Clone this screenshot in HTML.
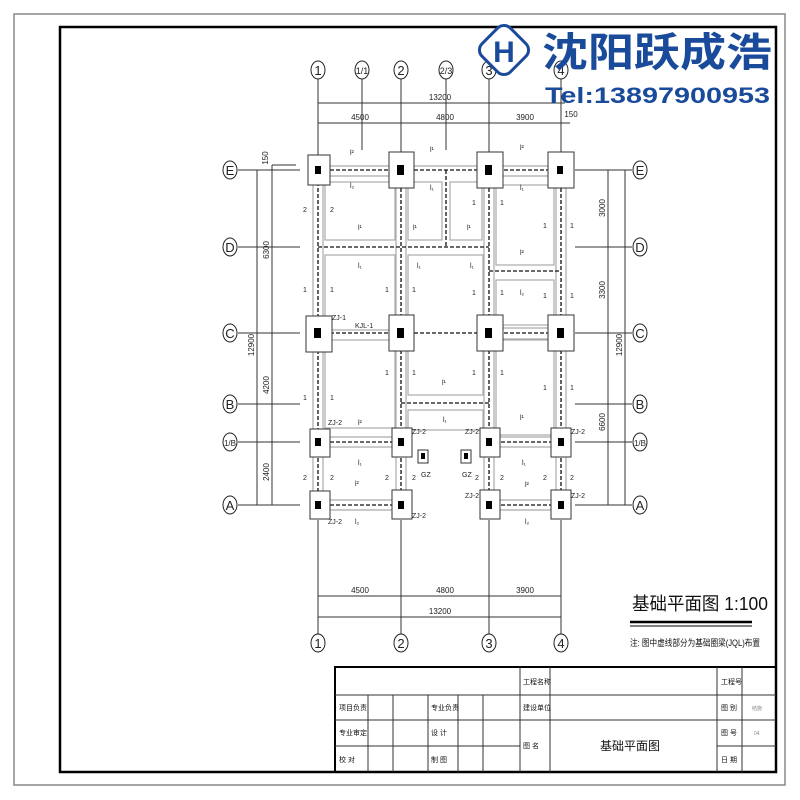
<!DOCTYPE html>
<html><head><meta charset="utf-8"><style>
body{margin:0;background:#fff}
svg{display:block}
text{font-family:"Liberation Sans","Noto Sans CJK SC",sans-serif}
</style></head><body>
<svg width="800" height="800" viewBox="0 0 800 800" xmlns="http://www.w3.org/2000/svg">
<rect x="14" y="14" width="771" height="771" fill="none" stroke="#888" stroke-width="1.5"/>
<rect x="60" y="27" width="716" height="745" fill="none" stroke="#000" stroke-width="2.5"/>

<g stroke="#333" stroke-width="1">
<line x1="318" y1="78" x2="318" y2="155"/><line x1="362" y1="78" x2="362" y2="150"/><line x1="401" y1="78" x2="401" y2="152"/><line x1="446" y1="78" x2="446" y2="150"/><line x1="489" y1="78" x2="489" y2="152"/><line x1="561" y1="78" x2="561" y2="152"/>
<line x1="318" y1="520" x2="318" y2="635"/><line x1="401" y1="520" x2="401" y2="635"/><line x1="489" y1="520" x2="489" y2="635"/><line x1="561" y1="520" x2="561" y2="635"/>
<line x1="318" y1="103" x2="565" y2="103"/><line x1="318" y1="123" x2="570" y2="123"/>
<line x1="318" y1="596" x2="561" y2="596"/><line x1="318" y1="617" x2="561" y2="617"/>
<line x1="238" y1="170" x2="300" y2="170"/><line x1="238" y1="247" x2="300" y2="247"/><line x1="238" y1="333" x2="300" y2="333"/><line x1="238" y1="404" x2="300" y2="404"/><line x1="238" y1="442" x2="300" y2="442"/><line x1="238" y1="505" x2="300" y2="505"/>
<line x1="575" y1="170" x2="632" y2="170"/><line x1="575" y1="247" x2="632" y2="247"/><line x1="575" y1="333" x2="632" y2="333"/><line x1="575" y1="404" x2="632" y2="404"/><line x1="575" y1="442" x2="632" y2="442"/><line x1="575" y1="505" x2="632" y2="505"/>
<line x1="257" y1="170" x2="257" y2="505"/><line x1="272" y1="165" x2="272" y2="505"/><line x1="272" y1="165" x2="296" y2="165"/>
<line x1="608" y1="170" x2="608" y2="505"/><line x1="625" y1="170" x2="625" y2="505"/>
</g>
<g font-size="8" fill="#222" text-anchor="middle">
<text x="440" y="100">13200</text><text x="360" y="120">4500</text><text x="445" y="120">4800</text><text x="525" y="120">3900</text><text x="571" y="117">150</text>
<text x="360" y="593">4500</text><text x="445" y="593">4800</text><text x="525" y="593">3900</text><text x="440" y="614">13200</text>
<text transform="translate(268,158) rotate(-90)">150</text>
<text transform="translate(269,250) rotate(-90)">6300</text>
<text transform="translate(254,345) rotate(-90)">12900</text>
<text transform="translate(269,385) rotate(-90)">4200</text>
<text transform="translate(269,472) rotate(-90)">2400</text>
<text transform="translate(605,208) rotate(-90)">3000</text>
<text transform="translate(605,290) rotate(-90)">3300</text>
<text transform="translate(622,345) rotate(-90)">12900</text>
<text transform="translate(605,422) rotate(-90)">6600</text>
</g>
<g fill="#fff" stroke="#222" stroke-width="1">
<ellipse cx="318" cy="70" rx="7" ry="9"/><ellipse cx="362" cy="70" rx="7" ry="9"/><ellipse cx="401" cy="70" rx="7" ry="9"/><ellipse cx="446" cy="70" rx="7" ry="9"/><ellipse cx="489" cy="70" rx="7" ry="9"/><ellipse cx="561" cy="70" rx="7" ry="9"/>
<ellipse cx="318" cy="643" rx="7" ry="9"/><ellipse cx="401" cy="643" rx="7" ry="9"/><ellipse cx="489" cy="643" rx="7" ry="9"/><ellipse cx="561" cy="643" rx="7" ry="9"/>
<ellipse cx="230" cy="170" rx="7" ry="9"/><ellipse cx="230" cy="247" rx="7" ry="9"/><ellipse cx="230" cy="333" rx="7" ry="9"/><ellipse cx="230" cy="404" rx="7" ry="9"/><ellipse cx="230" cy="442" rx="7" ry="9"/><ellipse cx="230" cy="505" rx="7" ry="9"/>
<ellipse cx="640" cy="170" rx="7" ry="9"/><ellipse cx="640" cy="247" rx="7" ry="9"/><ellipse cx="640" cy="333" rx="7" ry="9"/><ellipse cx="640" cy="404" rx="7" ry="9"/><ellipse cx="640" cy="442" rx="7" ry="9"/><ellipse cx="640" cy="505" rx="7" ry="9"/>
</g>
<g font-size="13" fill="#222" text-anchor="middle">
<text x="318" y="75">1</text><text x="362" y="74" font-size="9">1/1</text><text x="401" y="75">2</text><text x="446" y="74" font-size="9">2/3</text><text x="489" y="75">3</text><text x="561" y="75">4</text>
<text x="318" y="648">1</text><text x="401" y="648">2</text><text x="489" y="648">3</text><text x="561" y="648">4</text>
<text x="230" y="175">E</text><text x="230" y="252">D</text><text x="230" y="338">C</text><text x="230" y="409">B</text><text x="230" y="446" font-size="8">1/B</text><text x="230" y="510">A</text>
<text x="640" y="175">E</text><text x="640" y="252">D</text><text x="640" y="338">C</text><text x="640" y="409">B</text><text x="640" y="446" font-size="8">1/B</text><text x="640" y="510">A</text>
</g>

<g fill="none" stroke="#aaa" stroke-width="1.2">
<rect x="325" y="182" width="70" height="58"/><rect x="408" y="182" width="34" height="58"/><rect x="450" y="182" width="32" height="58"/><rect x="496" y="185" width="58" height="80"/>
<rect x="325" y="255" width="70" height="75"/><rect x="408" y="255" width="75" height="140"/><rect x="496" y="280" width="58" height="45"/>
<rect x="496" y="340" width="58" height="95"/><rect x="325" y="340" width="70" height="88"/>
<rect x="408" y="410" width="75" height="20"/>
<line x1="330" y1="166" x2="389" y2="166"/><line x1="330" y1="176" x2="389" y2="176"/>
<line x1="414" y1="166" x2="477" y2="166"/><line x1="503" y1="166" x2="548" y2="166"/><line x1="503" y1="176" x2="548" y2="176"/>
<line x1="503" y1="328" x2="548" y2="328"/><line x1="503" y1="339" x2="548" y2="339"/>
<line x1="330" y1="437" x2="392" y2="437"/><line x1="330" y1="447" x2="392" y2="447"/>
<line x1="500" y1="437" x2="551" y2="437"/><line x1="500" y1="447" x2="551" y2="447"/>
<line x1="330" y1="500" x2="392" y2="500"/><line x1="330" y1="510" x2="392" y2="510"/>
<line x1="500" y1="500" x2="551" y2="500"/><line x1="500" y1="510" x2="551" y2="510"/>
<line x1="313" y1="185" x2="313" y2="491"/><line x1="323" y1="185" x2="323" y2="491"/>
<line x1="396" y1="188" x2="396" y2="491"/><line x1="406" y1="188" x2="406" y2="491"/>
<line x1="484" y1="188" x2="484" y2="491"/><line x1="494" y1="188" x2="494" y2="491"/>
<line x1="556" y1="188" x2="556" y2="491"/><line x1="566" y1="188" x2="566" y2="491"/>
</g>
<g stroke="#111" stroke-width="1.3" stroke-dasharray="4,2" fill="none">
<line x1="318" y1="170" x2="561" y2="170"/><line x1="318" y1="333" x2="561" y2="333"/>
<line x1="318" y1="247" x2="489" y2="247"/><line x1="489" y1="271" x2="561" y2="271"/>
<line x1="401" y1="403" x2="489" y2="403"/><line x1="446" y1="170" x2="446" y2="247"/>
<line x1="318" y1="442" x2="401" y2="442"/><line x1="489" y1="442" x2="561" y2="442"/>
<line x1="318" y1="505" x2="401" y2="505"/><line x1="489" y1="505" x2="561" y2="505"/>
<line x1="318" y1="170" x2="318" y2="505"/><line x1="401" y1="170" x2="401" y2="505"/><line x1="489" y1="170" x2="489" y2="505"/><line x1="561" y1="170" x2="561" y2="505"/>
</g>
<g fill="#fff" stroke="#333" stroke-width="1">
<rect x="308" y="155" width="22" height="30"/><rect x="389" y="152" width="25" height="36"/><rect x="477" y="152" width="26" height="36"/><rect x="548" y="152" width="26" height="36"/>
<rect x="306" y="316" width="26" height="36"/><rect x="389" y="315" width="25" height="36"/><rect x="477" y="315" width="26" height="36"/><rect x="548" y="315" width="26" height="36"/>
<rect x="310" y="429" width="20" height="28"/><rect x="392" y="428" width="20" height="29"/><rect x="480" y="428" width="20" height="29"/><rect x="551" y="428" width="20" height="29"/>
<rect x="310" y="491" width="20" height="28"/><rect x="392" y="490" width="20" height="29"/><rect x="480" y="490" width="20" height="29"/><rect x="551" y="490" width="20" height="29"/>
<rect x="418" y="450" width="10" height="13"/><rect x="461" y="450" width="10" height="13"/>
</g>
<g fill="#000">
<rect x="315" y="166" width="6" height="8"/><rect x="397" y="165" width="7" height="10"/><rect x="485" y="165" width="7" height="10"/><rect x="557" y="166" width="6" height="8"/>
<rect x="314" y="328" width="7" height="10"/><rect x="397" y="328" width="7" height="10"/><rect x="485" y="328" width="7" height="10"/><rect x="557" y="328" width="7" height="10"/>
<rect x="315" y="438" width="6" height="8"/><rect x="398" y="438" width="6" height="8"/><rect x="486" y="438" width="6" height="8"/><rect x="558" y="438" width="6" height="8"/>
<rect x="315" y="501" width="6" height="8"/><rect x="398" y="501" width="6" height="8"/><rect x="486" y="501" width="6" height="8"/><rect x="558" y="501" width="6" height="8"/>
<rect x="421" y="453" width="4" height="6"/><rect x="464" y="453" width="4" height="6"/>
</g>
<g font-size="7" fill="#222">
<text x="332" y="320">ZJ-1</text><text x="355" y="328">KJL-1</text>
<text x="328" y="425">ZJ-2</text><text x="412" y="434">ZJ-2</text><text x="465" y="434">ZJ-2</text><text x="571" y="434">ZJ-2</text>
<text x="465" y="498">ZJ-2</text><text x="571" y="498">ZJ-2</text><text x="328" y="524">ZJ-2</text><text x="412" y="518">ZJ-2</text>
<text x="421" y="477">GZ</text><text x="462" y="477">GZ</text>
<text x="350" y="155">l²</text><text x="430" y="152">l¹</text><text x="520" y="150">l²</text>
<text x="350" y="188">l₂</text><text x="430" y="190">l₁</text><text x="520" y="190">l₁</text>
<text x="358" y="230">l¹</text><text x="413" y="230">l¹</text><text x="467" y="230">l¹</text><text x="520" y="255">l²</text>
<text x="358" y="268">l₁</text><text x="417" y="268">l₁</text><text x="470" y="268">l₁</text><text x="520" y="295">l₂</text>
<text x="442" y="385">l¹</text><text x="520" y="420">l¹</text><text x="358" y="425">l²</text><text x="443" y="422">l₁</text>
<text x="358" y="465">l₁</text><text x="522" y="465">l₁</text><text x="355" y="486">l²</text><text x="525" y="487">l²</text>
<text x="355" y="524">l₂</text><text x="525" y="524">l₂</text>
<text x="303" y="212">2</text><text x="330" y="212">2</text><text x="303" y="292">1</text><text x="330" y="292">1</text><text x="385" y="292">1</text><text x="412" y="292">1</text>
<text x="303" y="400">1</text><text x="330" y="400">1</text><text x="385" y="375">1</text><text x="412" y="375">1</text><text x="472" y="375">1</text><text x="500" y="375">1</text>
<text x="303" y="480">2</text><text x="330" y="480">2</text><text x="385" y="480">2</text><text x="412" y="480">2</text><text x="475" y="480">2</text><text x="500" y="480">2</text><text x="543" y="480">2</text><text x="570" y="480">2</text>
<text x="543" y="228">1</text><text x="570" y="228">1</text><text x="543" y="298">1</text><text x="570" y="298">1</text><text x="543" y="390">1</text><text x="570" y="390">1</text>
<text x="472" y="205">1</text><text x="500" y="205">1</text><text x="472" y="295">1</text><text x="500" y="295">1</text>
</g>

<g>
<rect x="484" y="30" width="40" height="40" rx="9" transform="rotate(45 504 50)" fill="#fff" stroke="#1a4a9a" stroke-width="3"/>
<text x="504" y="62" font-size="30" font-weight="bold" fill="#1a4a9a" text-anchor="middle" font-family="Liberation Serif">H</text>
<text x="542" y="66" font-size="40" font-weight="bold" fill="#1a4a9a" font-family="'Liberation Serif','Noto Serif CJK SC',serif" textLength="230" lengthAdjust="spacingAndGlyphs">沈阳跃成浩</text>
<text x="545" y="103" font-size="22" font-weight="bold" fill="#1a4a9a" font-family="Liberation Serif" textLength="225" lengthAdjust="spacingAndGlyphs">Tel:13897900953</text>
</g>

<text x="632" y="610" font-size="18" fill="#111" font-family="'Liberation Serif','Noto Serif CJK SC',serif" textLength="136" lengthAdjust="spacingAndGlyphs">基础平面图 1:100</text>
<line x1="630" y1="622" x2="752" y2="622" stroke="#000" stroke-width="2.5"/>
<line x1="630" y1="626" x2="752" y2="626" stroke="#000" stroke-width="1"/>
<text x="630" y="646" font-size="9" fill="#111" textLength="130" lengthAdjust="spacingAndGlyphs">注: 图中虚线部分为基础圈梁(JQL)布置</text>

<g stroke="#333" stroke-width="1" fill="none">
<rect x="335" y="667" width="441" height="105" stroke="#000" stroke-width="2"/>
<line x1="335" y1="695" x2="776" y2="695"/><line x1="335" y1="720" x2="776" y2="720"/>
<line x1="335" y1="746" x2="520" y2="746"/><line x1="717" y1="746" x2="776" y2="746"/>
<line x1="368" y1="695" x2="368" y2="772"/><line x1="393" y1="695" x2="393" y2="772"/><line x1="428" y1="695" x2="428" y2="772"/><line x1="458" y1="695" x2="458" y2="772"/><line x1="483" y1="695" x2="483" y2="772"/>
<line x1="520" y1="667" x2="520" y2="772"/><line x1="550" y1="667" x2="550" y2="772"/><line x1="717" y1="667" x2="717" y2="772"/><line x1="742" y1="667" x2="742" y2="772"/>
</g>
<g font-size="7" fill="#111">
<text x="523" y="684">工程名称</text><text x="721" y="684">工程号</text>
<text x="339" y="710">项目负责</text><text x="431" y="710">专业负责</text><text x="523" y="710">建设单位</text><text x="721" y="710">图 别</text><text x="752" y="710" fill="#888" font-size="5">结施</text>
<text x="339" y="735">专业审定</text><text x="431" y="735">设  计</text><text x="721" y="735">图 号</text><text x="754" y="735" fill="#888" font-size="5">04</text>
<text x="523" y="748">图  名</text>
<text x="339" y="762">校  对</text><text x="431" y="762">制  图</text><text x="721" y="762">日 期</text>
</g>
<text x="600" y="750" font-size="12" fill="#111">基础平面图</text>
</svg>
</body></html>
